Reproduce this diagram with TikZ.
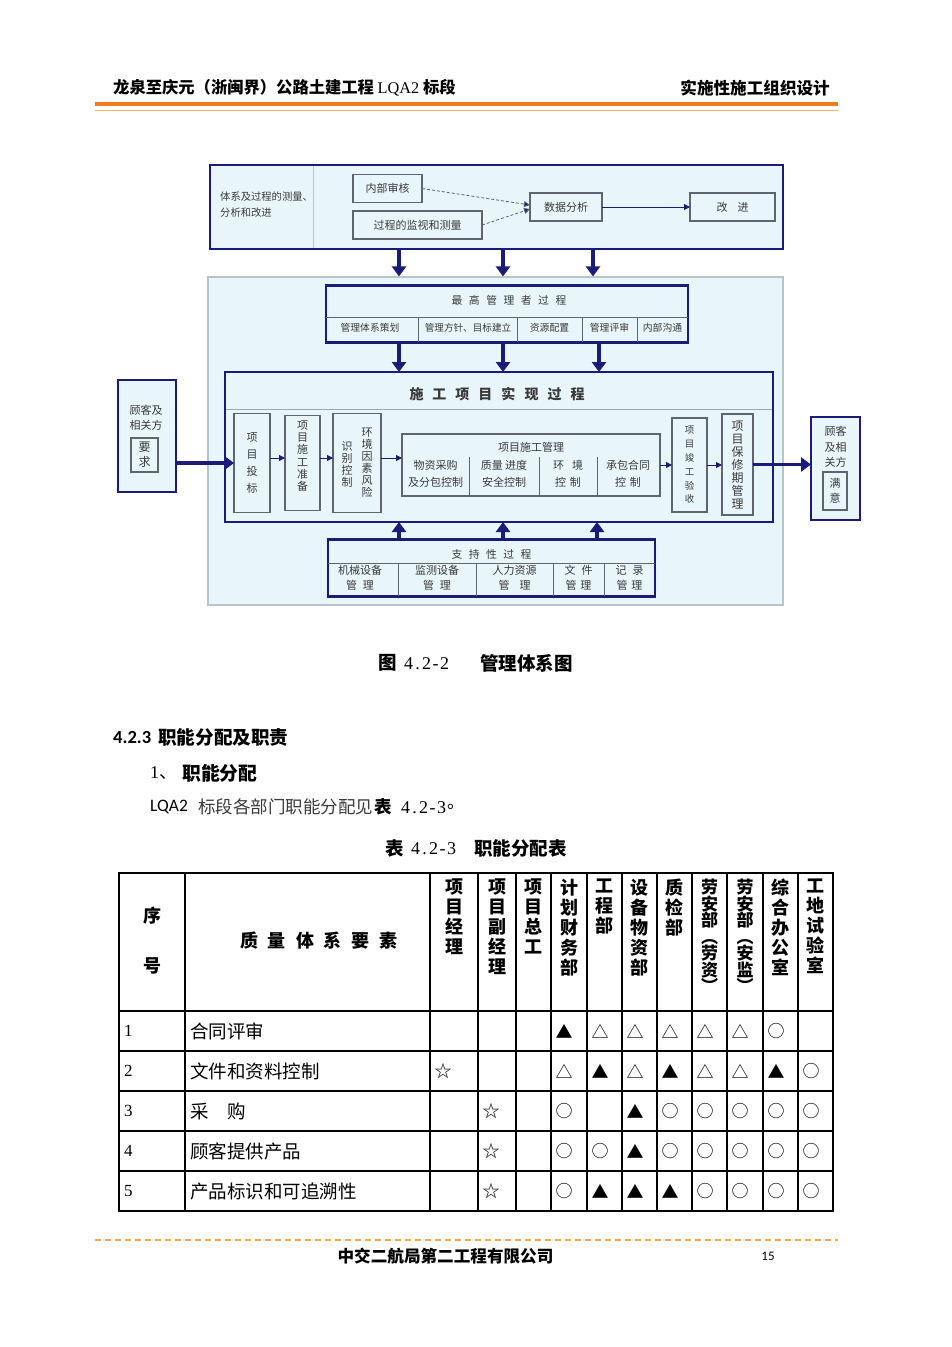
\documentclass[tikz,border=0pt]{standalone}
\usepackage{fontspec}
\setmainfont{Liberation Serif}
\newfontfamily\cjk{Noto Sans CJK SC}
\newfontfamily\calib{Carlito}
\usetikzlibrary{arrows.meta}
\definecolor{navy}{HTML}{1A1C78}
\definecolor{panel}{HTML}{E8F5FA}
\definecolor{panelline}{HTML}{B8C4CC}
\definecolor{boxgray}{HTML}{5E6470}
\definecolor{txt}{HTML}{3A3A3A}
\definecolor{orangeA}{HTML}{EE7A22}
\definecolor{orangeB}{HTML}{F4B460}
\newcommand\myfs[2]{\fontsize{#1}{#2}\selectfont}
\newcommand\hw[1]{\makebox[0.5em]{#1}}
\tikzset{
  thickbox/.style={draw=navy, line width=2.6pt, fill=panel, inner sep=0pt, outer sep=0pt},
  innerbox/.style={draw=boxgray, line width=1.1pt, fill=panel, inner sep=0pt, outer sep=0pt},
  lab/.style={inner sep=0pt, align=center, text=txt, font=\cjk\myfs{11}{13}},
  vlab/.style={inner sep=0pt, align=center, text=txt, font=\cjk\myfs{11}{#1}},
  divline/.style={draw=boxgray, line width=0.9pt},
  bigarr/.style={draw=navy, line width=3.2pt, -{Triangle[length=10pt,width=14pt]}},
  smallarr/.style={draw=navy, line width=0.8pt, -{Triangle[length=6pt,width=6pt]}},
  dasharr/.style={draw=boxgray, line width=0.8pt, densely dashed, -{Triangle[length=6pt,width=6pt,fill=navy]}},
  gridline/.style={draw=black, line width=1.8pt, line cap=rect},
  plain/.style={inner sep=0pt, anchor=west},
  hdr/.style={inner sep=0pt, anchor=north, align=center, font=\cjk\bfseries\myfs{18}{20}},
  sym/.style={inner sep=0pt, font=\cjk\myfs{17}{17}},
}
\begin{document}
\begin{tikzpicture}[x=1pt,y=-1pt]
\useasboundingbox (0,0) rectangle (952,1347);
\fill[white] (0,0) rectangle (952,1347);

% ---------- page header ----------
\node[plain, font=\cjk\bfseries\myfs{16.3}{17}] (hl) at (113,88) {龙泉至庆元（浙闽界）公路土建工程 {\rmfamily\mdseries LQA2} 标段};
\node[inner sep=0pt, anchor=east, font=\cjk\bfseries\myfs{16.6}{17}] (hr) at (830,88) {实施性施工组织设计};
\draw[orangeA, line width=4pt] (95,104) -- (838,104);
\draw[orangeB, line width=1.5pt] (95,110.5) -- (838,110.5);

% ---------- top box ----------
\node[thickbox, minimum width=573, minimum height=84] (tb) at (496.5,207) {};
\draw[draw=panelline, line width=1pt] (313,166) -- (313,248);
\node[plain, align=left, text=txt, font=\cjk\myfs{10.3}{16}] (tbl) at (220,205) {体系及过程的测量、\\分析和改进};
\node[innerbox, minimum width=69, minimum height=28] (nb) at (387.5,188.5) {};
\node[lab] at (nb) {内部审核};
\node[innerbox, minimum width=129, minimum height=28] (jc) at (417.5,225) {};
\node[lab] at (jc) {过程的监视和测量};
\node[innerbox, minimum width=72, minimum height=28] (sj) at (566,207) {};
\node[lab] at (sj) {数据分析};
\node[innerbox, minimum width=85, minimum height=28] (gj) at (732.5,207) {};
\node[lab] at (gj) {改\hspace{10pt}进};
\draw[dasharr] (nb.east) -- ([yshift=2pt]sj.west);
\draw[dasharr] (jc.east) -- ([yshift=-2pt]sj.west);
\draw[smallarr] (sj.east) -- (gj.west);

% ---------- panel ----------
\node[draw=panelline, line width=1.2pt, fill=panel, inner sep=0pt, minimum width=575, minimum height=328] (pn) at (495.5,441) {};
\coordinate (c1) at (399,0);
\coordinate (c2) at (503,0);
\coordinate (c3) at (593,0);
\coordinate (c4) at (599,0);
\coordinate (c5) at (597,0);
\draw[bigarr] (tb.south -| c1) -- (pn.north -| c1);
\draw[bigarr] (tb.south -| c2) -- (pn.north -| c2);
\draw[bigarr] (tb.south -| c3) -- (pn.north -| c3);

% ---------- top management ----------
\node[thickbox, minimum width=362, minimum height=57] (zg) at (507,314) {};
\node[lab, font=\cjk\myfs{10.8}{13}] (zgt) at (509,300) {最\hspace{6.5pt}高\hspace{6.5pt}管\hspace{6.5pt}理\hspace{6.5pt}者\hspace{6.5pt}过\hspace{6.5pt}程};
\draw[divline] (326,317) -- (688,317);
\foreach \xx in {418,517,582,637} \draw[divline] (\xx,317) -- (\xx,342);
\node[lab, font=\cjk\myfs{9.8}{11}] (z1) at (370,328) {管理体系策划};
\node[lab, font=\cjk\myfs{9.6}{11}] (z2) at (468,328) {管理方针、目标建立};
\node[lab, font=\cjk\myfs{9.8}{11}] (z3) at (549.5,328) {资源配置};
\node[lab, font=\cjk\myfs{9.8}{11}] (z4) at (609.5,328) {管理评审};
\node[lab, font=\cjk\myfs{9.8}{11}] (z5) at (662.5,328) {内部沟通};

% ---------- realization ----------
\node[thickbox, minimum width=548, minimum height=150] (sg) at (499,447) {};
\node[lab, font=\cjk\bfseries\myfs{14}{16}] (sgt) at (497,394) {施\hspace{9pt}工\hspace{9pt}项\hspace{9pt}目\hspace{9pt}实\hspace{9pt}现\hspace{9pt}过\hspace{9pt}程};
\draw[divline, draw=panelline!70!boxgray] (226,409) -- (772,409);
\draw[bigarr] (zg.south -| c1) -- (sg.north -| c1);
\draw[bigarr] (zg.south -| c2) -- (sg.north -| c2);
\draw[bigarr] (zg.south -| c4) -- (sg.north -| c4);

\node[innerbox, minimum width=36, minimum height=99] (tbx) at (252,463) {};
\node[vlab=17] at (tbx) {项\\目\\投\\标};
\node[innerbox, minimum width=35, minimum height=95] (zb) at (302.5,463) {};
\node[vlab=12.3] at (302.5,456) {项\\目\\施\\工\\准\\备};
\node[innerbox, minimum width=48, minimum height=99] (hj) at (357,463) {};
\node[vlab=12] at (367,463) {环\\境\\因\\素\\风\\险};
\node[vlab=12] at (347,464) {识\\别\\控\\制};
\node[innerbox, minimum width=258, minimum height=62] (gl) at (531,465) {};
\node[lab, font=\cjk\myfs{11}{12}] (glt) at (531,447) {项目施工管理};
\foreach \xx in {469,539,597} \draw[divline] (\xx,457) -- (\xx,496);
\node[lab, font=\cjk\myfs{11}{17}] (g1) at (435.5,473.5) {物资采购\\及分包控制};
\node[lab, font=\cjk\myfs{11}{17}] (g2) at (504,473.5) {质量 进度\\安全控制};
\node[lab, font=\cjk\myfs{11}{17}] (g3) at (568,473.5) {环\hspace{8pt}境\\控\hspace{4pt}制};
\node[lab, font=\cjk\myfs{11}{17}] (g4) at (628,473.5) {承包合同\\控\hspace{4pt}制};
\node[innerbox, minimum width=35, minimum height=94] (ys) at (689.5,465) {};
\node[vlab=13.8, font=\cjk\myfs{9.5}{13.8}] at (ys) {项\\目\\竣\\工\\验\\收};
\node[innerbox, minimum width=31, minimum height=101] (bx) at (737.5,464.5) {};
\node[vlab=13, font=\cjk\myfs{12}{13}] at (bx) {项\\目\\保\\修\\期\\管\\理};

\draw[smallarr] ([yshift=5pt]tbx.east) -- ([yshift=5pt]tbx.east -| zb.west);
\draw[smallarr] ([yshift=5pt]zb.east) -- ([yshift=5pt]zb.east -| hj.west);
\draw[smallarr] ([yshift=5pt]hj.east) -- ([yshift=5pt]hj.east -| gl.west);
\draw[smallarr] (gl.east) -- (gl.east -| ys.west);
\draw[smallarr] (ys.east) -- (ys.east -| bx.west);

% ---------- customers ----------
\node[thickbox, minimum width=58, minimum height=112] (lc) at (147,436) {};
\node[lab, font=\cjk\myfs{11}{15}] (lct) at (146,418) {顾客及\\相关方};
\node[innerbox, minimum width=27, minimum height=34] (yq) at (144.5,455) {};
\node[lab, font=\cjk\myfs{12}{15}] at (yq) {要\\求};
\node[thickbox, minimum width=49, minimum height=103] (rc) at (835.5,468.5) {};
\node[lab, font=\cjk\myfs{11}{15.5}] (rct) at (835.5,447) {顾客\\及相\\关方};
\node[innerbox, minimum width=24, minimum height=38] (my) at (835,491) {};
\node[lab, font=\cjk\myfs{11}{15}] at (my) {满\\意};
\draw[bigarr] (lc.east |- tbx.center) -- (tbx.west);
\draw[bigarr] (bx.east) -- (bx.east -| rc.west);

% ---------- support ----------
\node[thickbox, minimum width=327, minimum height=57] (zc) at (491.5,568) {};
\node[lab, font=\cjk\myfs{10.8}{13}] (zct) at (491.5,554) {支\hspace{6.5pt}持\hspace{6.5pt}性\hspace{6.5pt}过\hspace{6.5pt}程};
\draw[divline] (328,563) -- (655,563);
\foreach \xx in {398,476,553,604} \draw[divline] (\xx,563) -- (\xx,596);
\node[lab, font=\cjk\myfs{11}{15}] (s1) at (360,578) {机械设备\\管\hspace{6pt}理};
\node[lab, font=\cjk\myfs{11}{15}] (s2) at (437,578) {监测设备\\管\hspace{6pt}理};
\node[lab, font=\cjk\myfs{11}{15}] (s3) at (514.5,578) {人力资源\\管\hspace{10pt}理};
\node[lab, font=\cjk\myfs{11}{15}] (s4) at (578.5,578) {文\hspace{6pt}件\\管\hspace{4pt}理};
\node[lab, font=\cjk\myfs{11}{15}] (s5) at (629.5,578) {记\hspace{6pt}录\\管\hspace{4pt}理};
\draw[bigarr] (zc.north -| c1) -- (sg.south -| c1);
\draw[bigarr] (zc.north -| c2) -- (sg.south -| c2);
\draw[bigarr] (zc.north -| c5) -- (sg.south -| c5);

% ---------- texts ----------
\node[plain, font=\cjk\bfseries\myfs{18.5}{20}] (cap1) at (378,663) {图};
\node[plain, font=\myfs{18}{20}] (cap2) at (404,664) {\hw4\hw.\hw2\hw-\hw2};
\node[plain, font=\cjk\bfseries\myfs{18.5}{20}] (cap3) at (480,663) {管理体系图};
\node[plain, font=\calib\bfseries\myfs{18.5}{20}] (h1a) at (113,737) {4.2.3};
\node[plain, font=\cjk\bfseries\myfs{18.6}{20}] (h1b) at (158,737) {职能分配及职责};
\node[plain, font=\myfs{18}{20}] (h2a) at (150,773) {1{\cjk 、}};
\node[plain, font=\cjk\bfseries\myfs{18.8}{20}] (h2b) at (182,773) {职能分配};
\node[plain, font=\calib\myfs{17.5}{20}] (p1a) at (150,807) {LQA2};
\node[plain, font=\cjk\myfs{17.5}{20}, text=txt] (p1b) at (198,807) {标段各部门职能分配见};
\node[plain, font=\cjk\bfseries\myfs{17.5}{20}] (p1c) at (374.5,807) {表};
\node[plain, font=\myfs{18}{20}] (p1d) at (401,808) {\hw4\hw.\hw2\hw-\hw3};
\node[plain, font=\cjk\myfs{17.5}{20}] (p1e) at (447,807) {。};
\node[plain, font=\cjk\bfseries\myfs{18.5}{20}] (tc1) at (385,848) {表};
\node[plain, font=\myfs{18}{20}] (tc2) at (411,849) {\hw4\hw.\hw2\hw-\hw3};
\node[plain, font=\cjk\bfseries\myfs{18.5}{20}] (tc3) at (474,848) {职能分配表};

% ---------- table ----------
\foreach \xx in {119,185,430,478,516,551,587,622,657,692,727,763,798,833}
  \draw[gridline] (\xx,873) -- (\xx,1211);
\foreach \yy in {873,1011,1051,1091,1131,1171,1211}
  \draw[gridline] (119,\yy) -- (833,\yy);
\node[inner sep=0pt, font=\cjk\bfseries\myfs{18}{20}] (xu) at (152,916) {序};
\node[inner sep=0pt, font=\cjk\bfseries\myfs{18}{20}] (hao) at (152,966) {号};
\node[inner sep=0pt, font=\cjk\bfseries\myfs{18}{20}] (zl) at (319,941) {质\hspace{10pt}量\hspace{10pt}体\hspace{10pt}系\hspace{10pt}要\hspace{10pt}素};
\node[hdr] (k1) at (454,879) {项\\目\\经\\理};
\node[hdr] (k2) at (497,879) {项\\目\\副\\经\\理};
\node[hdr] (k3) at (533.5,879) {项\\目\\总\\工};
\node[hdr] (k4) at (569,879) {计\\划\\财\\务\\部};
\node[hdr] (k5) at (604.5,879) {工\\程\\部};
\node[hdr] (k6) at (639.5,879) {设\\备\\物\\资\\部};
\node[hdr] (k7) at (674.5,879) {质\\检\\部};
\node[hdr, font=\cjk\bfseries\myfs{17}{16.5}] (k8) at (709.5,879) {劳\\安\\部\\︵\\劳\\资\\︶};
\node[hdr, font=\cjk\bfseries\myfs{17}{16.5}] (k9) at (745,879) {劳\\安\\部\\︵\\安\\监\\︶};
\node[hdr] (k10) at (780.5,879) {综\\合\\办\\公\\室};
\node[hdr] (k11) at (815.5,879) {工\\地\\试\\验\\室};

\foreach \r/\yy/\t in {1/1031/合同评审,2/1071/文件和资料控制,3/1111/采　购,4/1151/顾客提供产品,5/1191/产品标识和可追溯性}{
  \node[plain, font=\myfs{17}{17}] (n\r) at (124,\yy) {\r};
  \node[plain, font=\cjk\myfs{18.5}{19}] (t\r) at (190,\yy) {\t};
}
\foreach \yy/\xx/\s in {
  1031/564/▲,1031/600/△,1031/635/△,1031/670/△,1031/705/△,1031/740/△,1031/776/○,
  1071/443/☆,1071/564/△,1071/600/▲,1071/635/△,1071/670/▲,1071/705/△,1071/740/△,1071/776/▲,1071/811/○,
  1111/491/☆,1111/564/○,1111/635/▲,1111/670/○,1111/705/○,1111/740/○,1111/776/○,1111/811/○,
  1151/491/☆,1151/564/○,1151/600/○,1151/635/▲,1151/670/○,1151/705/○,1151/740/○,1151/776/○,1151/811/○,
  1191/491/☆,1191/564/○,1191/600/▲,1191/635/▲,1191/670/▲,1191/705/○,1191/740/○,1191/776/○,1191/811/○}
  \node[sym] (m\yy-\xx) at (\xx,\yy) {\s};

% ---------- footer ----------
\draw[orangeB!80!orangeA, line width=1.5pt, dash pattern=on 6pt off 4pt] (95,1240) -- (838,1240);
\node[inner sep=0pt, font=\cjk\bfseries\myfs{16.6}{17}] (ft) at (445.5,1256) {中交二航局第二工程有限公司};
\node[inner sep=0pt, font=\calib\myfs{13}{14}] (pg) at (768,1256) {15};
\end{tikzpicture}
\end{document}
